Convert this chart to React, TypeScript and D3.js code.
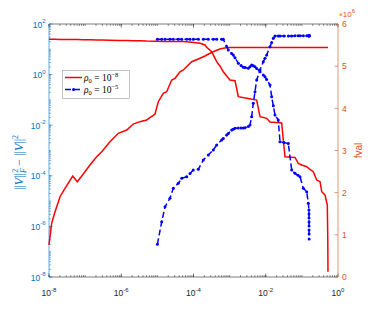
import React from "react";
import * as d3 from "d3";

// ---- data ----
// rho_0 = 1e-8 (red)
const rhoRed = [
  1e-8, 1.19e-8, 1.47e-8, 2.02e-8, 2.77e-8, 4.53e-8, 6.07e-8, 8.9e-8, 1.36e-7, 2.09e-7,
  2.88e-7, 4.88e-7, 8.28e-7, 1.42e-6, 2.16e-6, 3.3e-6, 5.06e-6, 8.59e-6, 1.06e-5, 1.46e-5,
  1.81e-5, 2.49e-5, 3.08e-5, 4.23e-5, 5.22e-5, 8.91e-5, 1.51e-4, 2.08e-4, 2.32e-4, 3.19e-4,
  3.53e-4, 4.38e-4, 5.42e-4, 6.68e-4, 8.3e-4, 1.02e-3, 1.41e-3, 1.57e-3, 1.74e-3, 2.97e-3,
  5.61e-3, 6.93e-3, 1.06e-2, 1.31e-2, 2.76e-2, 3.06e-2, 3.41e-2, 6.46e-2, 7.96e-2, 9.89e-2,
  0.136, 0.168, 0.207, 0.257, 0.318, 0.354, 0.437, 0.506, 0.522, 0.528,
];
const gapRed = [
  1.84e-7, 1.36e-6, 3.81e-6, 1.49e-5, 3.21e-5, 9.82e-5, 5.85e-5, 1.18e-4, 2.67e-4, 5.69e-4,
  8.97e-4, 2.23e-3, 4.79e-3, 6.46e-3, 1.11e-2, 1.38e-2, 1.61e-2, 2.77e-2, 8.49e-2, 0.182,
  0.211, 0.612, 0.714, 1.3, 1.52, 3.24, 4.41, 5.43, 5.95, 7.47,
  8.04, 9.13, 10.3, 10.95, 11.57, 11.7, 11.7, 11.7, 11.7, 11.7,
  11.7, 11.7, 11.7, 11.7, 11.7, 11.7, 11.7, 11.7, 11.7, 11.7,
  11.7, 11.7, 11.7, 11.7, 11.7, 11.7, 11.7, 11.7, 11.7, 11.7,
];
const fvalRed = [
  5.637, 5.637, 5.636, 5.635, 5.634, 5.632, 5.63, 5.628, 5.625, 5.622,
  5.62, 5.615, 5.61, 5.607, 5.605, 5.603, 5.595, 5.59, 5.588, 5.587,
  5.586, 5.585, 5.585, 5.585, 5.585, 5.566, 5.542, 5.502, 5.447, 5.343,
  5.267, 5.106, 4.999, 4.868, 4.769, 4.672, 4.655, 4.465, 4.276, 4.238,
  4.197, 3.801, 3.763, 3.676, 3.652, 3.249, 2.853, 2.834, 2.696, 2.656,
  2.616, 2.554, 2.497, 2.3, 2.26, 2.023, 1.945, 1.707, 0.877, 0.126,
];

// rho_0 = 1e-5 (blue)
const rhoBlue = [
  1e-5, 1.32e-5, 1.63e-5, 2.23e-5, 2.76e-5, 3.79e-5, 4.71e-5, 6.49e-5, 8.0e-5, 9.86e-5,
  1.36e-4, 1.87e-4, 2.57e-4, 3.53e-4, 4.38e-4, 6.04e-4, 6.68e-4, 8.3e-4, 9.18e-4, 1.14e-3,
  1.26e-3, 1.41e-3, 1.74e-3, 2.07e-3, 2.39e-3, 2.67e-3, 3.29e-3, 3.66e-3, 4.08e-3, 4.52e-3,
  5.04e-3, 5.61e-3, 6.93e-3, 8.55e-3, 9.53e-3, 1.06e-2, 1.31e-2, 1.46e-2, 1.62e-2, 1.8e-2,
  2.22e-2, 2.48e-2, 3.2e-2, 4.21e-2, 5.22e-2, 6.46e-2, 7.82e-2, 8.87e-2, 0.11, 0.136,
  0.151, 0.157, 0.1572, 0.1575, 0.1578, 0.1581, 0.1584, 0.1587, 0.159,
];
const gapBlue = [
  1.96e-7, 1.53e-6, 6.01e-6, 1.29e-5, 3.21e-5, 5.06e-5, 7.96e-5, 9.2e-5, 1.24e-4, 1.69e-4,
  1.81e-4, 4.21e-4, 6.64e-4, 1.05e-3, 1.65e-3, 2.6e-3, 3.01e-3, 4.1e-3, 4.74e-3, 6.46e-3,
  6.95e-3, 7.54e-3, 7.67e-3, 7.75e-3, 7.82e-3, 7.96e-3, 8.81e-3, 1.02e-2, 2.17e-2, 7.34e-2,
  0.211, 0.612, 1.52, 3.24, 4.41, 5.95, 12.7, 18.6, 27.2, 33.6,
  33.6, 33.6, 33.6, 33.6, 33.6, 34.0, 34.0, 34.0, 34.3, 34.3,
  34.6, 34.6, 34.6, 34.6, 34.6, 34.6, 34.6, 34.6, 34.6,
];
const fvalBlue = [
  5.637, 5.637, 5.637, 5.637, 5.637, 5.637, 5.637, 5.637, 5.637, 5.637,
  5.637, 5.637, 5.637, 5.637, 5.637, 5.637, 5.637, 5.466, 5.383, 5.302,
  5.264, 5.198, 5.068, 5.015, 4.973, 4.966, 4.949, 4.987, 5.027, 5.008,
  4.987, 4.947, 4.868, 4.79, 4.75, 4.683, 4.553, 4.276, 4.06, 3.842,
  3.723, 3.208, 3.187, 3.166, 2.537, 2.459, 2.412, 2.378, 2.103, 2.023,
  1.748, 1.589, 1.494, 1.399, 1.304, 1.209, 1.115, 1.02, 0.901,
];

const xTickExps = [-8, -6, -4, -2, 0];
const yLeftTickExps = [2, 0, -2, -4, -6, -8];
const yRightTicks = [0, 1, 2, 3, 4, 5, 6];
const legendExps = ["\u22128", "\u22125"];

// ---- layout ----
const W = 374;
const H = 313;
const L = 49, R = 338, T = 24, B = 277;

const BLUE_AX = "#0072BD";
const ORANGE_AX = "#D95319";
const DARK = "#262626";
const SANS = "'Liberation Sans', Arial, Helvetica, sans-serif";
const SERIF = "'Liberation Serif', 'DejaVu Serif', serif";

export default function App() {
  const x = d3.scaleLog().domain([1e-8, 1]).range([L, R]);
  const yL = d3.scaleLog().domain([1e-8, 1e2]).range([B, T]);
  const yR = d3.scaleLinear().domain([0, 6]).range([B, T]);

  const lineL = (xs: number[], ys: number[]) =>
    d3.line<number>().x((_, i) => x(xs[i])).y((d) => yL(d))(ys) || "";
  const lineR = (xs: number[], ys: number[]) =>
    d3.line<number>().x((_, i) => x(xs[i])).y((d) => yR(d))(ys) || "";

  // minor ticks
  const xMinor: number[] = [];
  for (let n = -8; n < 0; n++) for (let k = 1; k <= 9; k++) xMinor.push(k * Math.pow(10, n));
  const yMinor: number[] = [];
  for (let n = -8; n < 2; n++) for (let k = 1; k <= 9; k++) yMinor.push(k * Math.pow(10, n));

  const major = 3.5, minor = 2;

  return (
    <svg width={W} height={H} style={{ position: "absolute", left: 0, top: 0, background: "#fff" }}>
      <rect x={0} y={0} width={W} height={H} fill="#fff" />

      {/* x axis bottom & top */}
      <line x1={L} x2={R} y1={B} y2={B} stroke={DARK} strokeWidth={0.6} />
      <line x1={L} x2={R} y1={T} y2={T} stroke={DARK} strokeWidth={0.6} />
      {xMinor.map((v, i) => (
        <g key={"xm" + i}>
          <line x1={x(v)} x2={x(v)} y1={B} y2={B - minor} stroke={DARK} strokeWidth={0.5} />
          <line x1={x(v)} x2={x(v)} y1={T} y2={T + minor} stroke={DARK} strokeWidth={0.5} />
        </g>
      ))}
      {xTickExps.map((e) => {
        const px = x(Math.pow(10, e));
        return (
          <g key={"xt" + e}>
            <line x1={px} x2={px} y1={B} y2={B - major} stroke={DARK} strokeWidth={0.6} />
            <line x1={px} x2={px} y1={T} y2={T + major} stroke={DARK} strokeWidth={0.6} />
            <text x={px} y={296} textAnchor="middle" fontFamily={SANS} fontSize={8.5} fill={DARK}>
              <tspan>10</tspan>
              <tspan dy={-4.5} fontSize={6}>{String(e)}</tspan>
            </text>
          </g>
        );
      })}

      {/* left y axis */}
      <line x1={L} x2={L} y1={T} y2={B} stroke={BLUE_AX} strokeWidth={0.6} />
      {yMinor.map((v, i) => (
        <line key={"ym" + i} x1={L} x2={L + minor} y1={yL(v)} y2={yL(v)} stroke={BLUE_AX} strokeWidth={0.5} />
      ))}
      {yLeftTickExps.map((e) => {
        const py = yL(Math.pow(10, e));
        return (
          <g key={"yl" + e}>
            <line x1={L} x2={L + major} y1={py} y2={py} stroke={BLUE_AX} strokeWidth={0.6} />
            <text x={45.5} y={py + 3.5} textAnchor="end" fontFamily={SANS} fontSize={8.5} fill={BLUE_AX}>
              <tspan>10</tspan>
              <tspan dy={-4.5} fontSize={6}>{String(e)}</tspan>
            </text>
          </g>
        );
      })}

      {/* right y axis */}
      <line x1={R} x2={R} y1={T} y2={B} stroke={ORANGE_AX} strokeWidth={0.6} />
      {yRightTicks.map((v) => (
        <g key={"yr" + v}>
          <line x1={R} x2={R - major} y1={yR(v)} y2={yR(v)} stroke={ORANGE_AX} strokeWidth={0.6} />
          <text x={342} y={yR(v) + 3.2} fontFamily={SANS} fontSize={8.5} fill={ORANGE_AX}>{v}</text>
        </g>
      ))}
      <text x={339} y={17} fontFamily={SANS} fontSize={8} fill={ORANGE_AX}>
        <tspan fontSize={6.5}>×</tspan>
        <tspan>10</tspan>
        <tspan dy={-4} fontSize={6}>6</tspan>
      </text>

      {/* axis labels */}
      <text
        transform={`translate(23,${(T + B) / 2 + 12}) rotate(-90)`}
        textAnchor="middle"
        fontFamily={SERIF}
        fontSize={12}
        fill={BLUE_AX}
      >
        <tspan>||</tspan>
        <tspan fontStyle="italic">V</tspan>
        <tspan>||</tspan>
        <tspan dy={3} fontSize={8} fontStyle="italic">F</tspan>
        <tspan dx={-4.5} dy={-8} fontSize={8}>2</tspan>
        <tspan dy={5}> − ||</tspan>
        <tspan fontStyle="italic">V</tspan>
        <tspan>||</tspan>
        <tspan dy={-5} fontSize={8}>2</tspan>
      </text>
      <text
        transform={`translate(362,${(T + B) / 2}) rotate(-90)`}
        textAnchor="middle"
        fontFamily={SANS}
        fontSize={10}
        fill={ORANGE_AX}
      >
        fval
      </text>

      {/* series */}
      <path d={lineR(rhoRed, fvalRed)} fill="none" stroke="#FF0000" strokeWidth={1.5} />
      <path d={lineL(rhoRed, gapRed)} fill="none" stroke="#FF0000" strokeWidth={1.5} />
      <path d={lineR(rhoBlue, fvalBlue)} fill="none" stroke="#0000FF" strokeWidth={1.5} strokeDasharray="6,3" />
      <path d={lineL(rhoBlue, gapBlue)} fill="none" stroke="#0000FF" strokeWidth={1.5} strokeDasharray="6,3" />
      {rhoBlue.map((r, i) => (
        <g key={"bm" + i}>
          <circle cx={x(r)} cy={yR(fvalBlue[i])} r={1.5} fill="#0000FF" />
          <circle cx={x(r)} cy={yL(gapBlue[i])} r={1.5} fill="#0000FF" />
        </g>
      ))}

      {/* legend */}
      <rect x={62.5} y={70.5} width={67} height={28} fill="#fff" stroke="#9a9a9a" strokeWidth={0.6} />
      <line x1={65} x2={82} y1={77.5} y2={77.5} stroke="#FF0000" strokeWidth={1.5} />
      <line x1={65} x2={82} y1={89.5} y2={89.5} stroke="#0000FF" strokeWidth={1.5} strokeDasharray="6,3" />
      <circle cx={73.5} cy={89.5} r={1.5} fill="#0000FF" />
      {legendExps.map((e, i) => (
        <text key={"lg" + i} x={84} y={80.5 + i * 12} fontFamily={SERIF} fontSize={9.5} fill="#000">
          <tspan fontStyle="italic">ρ</tspan>
          <tspan dy={2} fontSize={6.5}>0</tspan>
          <tspan dy={-2}> = 10</tspan>
          <tspan dy={-4} fontSize={6.5}>{e}</tspan>
        </text>
      ))}
    </svg>
  );
}
